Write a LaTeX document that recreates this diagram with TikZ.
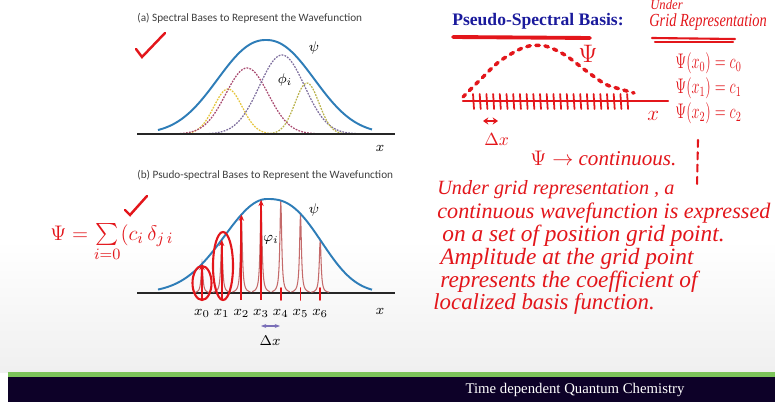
\documentclass[tikz,border=0pt]{standalone}
\usepackage{amsmath,amssymb,graphicx}
\usepackage{fontspec}
\setmainfont{Liberation Serif}
\newfontfamily\slidesans{Carlito}
\usetikzlibrary{arrows.meta,calc,positioning}

\definecolor{penred}{HTML}{E3161B}
\definecolor{titleblue}{HTML}{1A1A9C}
\definecolor{psiblue}{HTML}{2E7DB8}
\definecolor{barnavy}{HTML}{0D0128}
\definecolor{bargreen}{HTML}{7CC45A}
\definecolor{spikered}{HTML}{C46A6A}
\definecolor{dxpurple}{HTML}{7A6FB8}
\definecolor{basismaroon}{HTML}{A8476E}
\definecolor{basispurple}{HTML}{7C6C9C}
\definecolor{basisyellow}{HTML}{E6C53A}
\definecolor{basisolive}{HTML}{B9B24A}

\tikzset{
  slidetitle/.style={anchor=west,inner sep=0pt,text=black!75,font=\slidesans\fontsize{6.4}{7}\selectfont},
  axisline/.style={line width=1.3pt,black!85},
  psicurve/.style={line width=1.1pt,psiblue},
  basisdash/.style={line width=0.7pt,dash pattern=on 1pt off 0.7pt},
  spike/.style={line width=0.6pt,spikered},
  penline/.style={line width=1.2pt,penred,line cap=round},
  penarrow/.style={line width=1.2pt,penred,-{Stealth[length=3.5pt,width=3pt]}},
  hand/.style={anchor=west,inner sep=0pt,text=penred,font=\fontsize{13.3}{15}\selectfont\itshape},
  gridlabel/.style={inner sep=0pt,font=\fontsize{8}{9}\selectfont},
  declare function={
    psiA(\x)=94*exp(-((abs(\x-266)+0.001)/64)^2.2);
    psiB(\x)=(\x<267)*94*exp(-((\x-267)/60)^2)+(\x>=267)*94*exp(-((abs(\x-267)+0.001)/66)^2.6);
  }
}

\begin{document}
\begin{tikzpicture}[x=0.02cm,y=-0.02cm]
\useasboundingbox (0,0) rectangle (775,402);
\fill[white] (0,0) rectangle (775,402);
\shade[top color=white,bottom color=black!6] (0,240) rectangle (775,372);

% footer bar
\fill[bargreen] (8,372) rectangle (775,377);
\fill[barnavy] (8,377) rectangle (775,402);
\node[text=white,inner sep=0pt,font=\fontsize{8.4}{10}\selectfont] (footer) at (575,390) {Time dependent Quantum Chemistry};

% (a) spectral bases
\node[slidetitle] (titleA) at (137,18) {(a) Spectral Bases to Represent the Wavefunction};
\draw[basisdash,basisyellow] plot[domain=180:280,samples=60] (\x,{134-45*exp(-((\x-228)/20)^2)});
\draw[basisdash,basismaroon] plot[domain=180:345,samples=80] (\x,{134-66*exp(-((\x-247)/30)^2)});
\draw[basisdash,basispurple] plot[domain=185:360,samples=80] (\x,{134-79*exp(-((\x-282)/32)^2)});
\draw[basisdash,basisolive] plot[domain=255:350,samples=60] (\x,{134-51*exp(-((\x-307)/17)^2)});
\draw[psicurve] plot[domain=158:372,samples=90] (\x,{134-psiA(\x)});
\draw[axisline] (137,134) -- (395,134);
\node[gridlabel] (psiLabelA) at (314,48) {$\psi$};
\node[gridlabel] (phiA) at (285,80) {$\phi_i$};
\node[gridlabel] (xA) at (380,148) {$x$};
\draw[penline,line width=1.4pt] (136,49) -- (142,57) -- (165,33);

% (b) pseudo-spectral bases
\node[slidetitle] (titleB) at (137,175) {(b) Psudo-spectral Bases to Represent the Wavefunction};
\draw[axisline] (137,293) -- (395,293);
\foreach \k in {0,...,6} {
  \pgfmathsetmacro{\xk}{202+19.7*\k}
  \pgfmathsetmacro{\hk}{psiB(\xk)}
  \draw[spike] plot[domain=-9:9,samples=41] ({\xk+\x},{293-\hk/(1+(\x/1.1)^2)});
  \coordinate (g\k) at (\xk,300);
  \coordinate (b\k) at (\xk,288);
  \coordinate (t\k) at (\xk,293-\hk);
  \node[gridlabel] (lx\k) at (\xk,313) {$x_{\k}$};
}
\draw[psicurve] plot[domain=158:372,samples=90] (\x,{293-psiB(\x)});
\foreach \k in {0,...,3}
  \draw[penarrow] (g\k) -- (t\k);
\foreach \k in {4,...,6}
  \draw[penline,line width=0.9pt] (b\k) -- (g\k);
\node[gridlabel] (psiLabelB) at (314,210) {$\psi$};
\node[gridlabel] (phiB) at (271,240) {$\varphi_i$};
\node[gridlabel] (xB) at (380,311) {$x$};
\coordinate (dxL) at (261,326);
\coordinate (dxR) at (280,326);
\draw[dxpurple,line width=1pt,{Stealth[length=3pt]}-{Stealth[length=3pt]}] (dxL) -- (dxR);
\node[gridlabel] (dxB) at (270,341) {$\Delta x$};
\draw[penline] (202,283) ellipse [x radius=0.19cm,y radius=0.34cm];
\draw[penline] (223,266) ellipse [x radius=0.2cm,y radius=0.68cm];
\draw[penline,line width=1.4pt] (125,210) -- (130,215) -- (147,196);
\node[hand,font=\fontsize{12.5}{14}\selectfont] (sumB) at (50,243) {$\Psi=\sum\limits_{i=0}(c_i\,\delta_{j\,i}$};

% pseudo-spectral basis notes
\node[anchor=west,inner sep=0pt,text=titleblue,font=\fontsize{10}{12}\selectfont\bfseries] (psTitle) at (452,21) {Pseudo-Spectral Basis:};
\draw[penline,line width=2.2pt] (453,37) -- (590,38);
\node[hand,font=\fontsize{8}{9}\selectfont\itshape] (under) at (650,5) {\scalebox{0.9}[1]{Under}};
\node[hand,font=\fontsize{10.5}{12}\selectfont\itshape] (gridRep) at (649,22) {\scalebox{0.78}[1]{Grid Representation}};
\draw[penline] (652,38) -- (735,39);
\draw[penline] (655,42) -- (733,42);

\draw[penline,line width=2pt,dash pattern=on 2pt off 3.2pt] plot[smooth] coordinates
  {(463,97) (480,80) (500,61) (525,47) (545,46) (565,55) (585,70) (605,84) (620,89) (634,93)};
\node[hand,font=\fontsize{15}{16}\selectfont] (psiNote) at (578,54) {$\Psi$};
\draw[penline] (463,101) -- (668,101);
\foreach \t in {0,...,23}
  \draw[penline,line width=1pt] (473+6.7*\t,94) -- (474+6.7*\t,109);
\node[hand,font=\fontsize{13}{14}\selectfont] (xNote) at (647,116) {$x$};
\coordinate (dxa) at (483,121);
\coordinate (dxb) at (498,121);
\draw[penline,line width=0.9pt,{Stealth[length=3pt,width=4pt]}-{Stealth[length=3pt,width=4pt]}] (dxa) -- (dxb);
\node[hand,font=\fontsize{10}{11}\selectfont] (dxNote) at (484,139) {$\Delta x$};

\node[hand,font=\fontsize{12}{14}\selectfont] (val0) at (675,63) {\scalebox{0.68}[1]{$\Psi(x_0)=c_0$}};
\node[hand,font=\fontsize{12}{14}\selectfont] (val1) at (675,88) {\scalebox{0.68}[1]{$\Psi(x_1)=c_1$}};
\node[hand,font=\fontsize{12}{14}\selectfont] (val2) at (675,113) {\scalebox{0.68}[1]{$\Psi(x_2)=c_2$}};

\node[hand,font=\fontsize{12}{14}\selectfont\itshape] (contNote) at (530,158) {$\Psi\rightarrow$ continuous.};
\draw[penline,dash pattern=on 4pt off 3pt] (698,140) -- (697,186);

\node[hand,font=\fontsize{11.5}{13}\selectfont\itshape] (line1) at (437,190) {Under grid representation , a};
\node[hand,font=\fontsize{12.6}{14}\selectfont\itshape] (line2) at (437,213) {continuous wavefunction is expressed};
\node[hand] (line3) at (442,236) {on a set of position grid point.};
\node[hand] (line4) at (440,259) {Amplitude at the grid point};
\node[hand] (line5) at (440,282) {represents the coefficient of};
\node[hand,font=\fontsize{13}{15}\selectfont\itshape] (line6) at (433,304) {localized basis function.};
\end{tikzpicture}
\end{document}
